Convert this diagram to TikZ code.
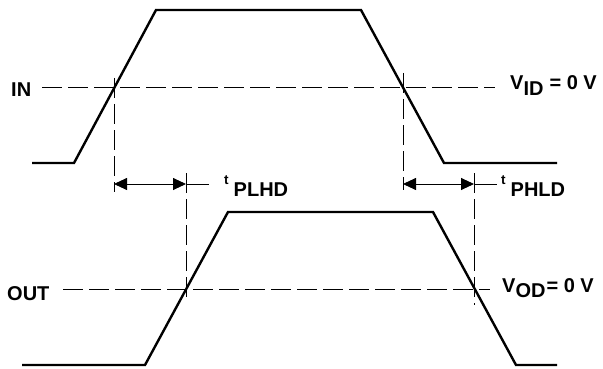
\documentclass[tikz,border=0pt]{standalone}
\usepackage{fontspec}
\setmainfont{Liberation Sans}
\usetikzlibrary{arrows.meta, positioning}

% delay label: small t, larger lowered index
\newcommand{\tdelay}[1]{{\fontsize{13.5}{14}\selectfont t}\hspace{5pt}\raisebox{-12pt}{#1}}

\begin{document}
\begin{tikzpicture}[x=1pt, y=-1pt,
        % Line styles
        wave/.style={line width=2.4pt, line join=miter},
        guide/.style={line width=0.9pt, dash pattern=on 20pt off 6pt},
        delay/.style={{Triangle[length=13pt,width=12pt]}-{Triangle[length=13pt,width=12pt]}, line width=0.9pt},
        tail/.style={line width=0.9pt},
        % Label styles
        lbl/.style={font=\fontsize{20}{22}\selectfont\bfseries, inner sep=0pt},
    ]
    \useasboundingbox (0,0) rectangle (603,369);

    % Waveforms
    \draw[wave] (32,163) -- (74,163) -- (156,10) -- (361,10) -- (444,163) -- (557,163);
    \draw[wave] (22,365) -- (145,365) -- (228,212) -- (433,212) -- (516,365) -- (557,365);

    % Labels
    \node[lbl, anchor=base west] (inlbl) at (11,97) {IN};
    \node[lbl, anchor=base west] (outlbl) at (7,300) {OUT};
    \node[lbl, anchor=base west] (vid) at (510,89) {V\raisebox{-6pt}{ID}\hspace{6pt}= 0 V};
    \node[lbl, anchor=base west] (vod) at (502,292) {V\raisebox{-5pt}{OD}\hspace{1pt}= 0 V};
    \node[lbl, anchor=base west] (tplhd) at (224,184) {\tdelay{PLHD}};
    \node[lbl, anchor=base west] (tphld) at (501,184) {\tdelay{PHLD}};

    % Threshold levels
    \coordinate (inA) at (42,87);   \coordinate (inB) at (495,87);
    \coordinate (outA) at (63,289); \coordinate (outB) at (490,289);
    \draw[guide] (inA) -- (inB);
    \draw[guide] (outA) -- (outB);

    % Crossing markers (vertical)
    \foreach \n/\x/\ya/\yb in {1/114/78/192, 2/186/173/302, 3/403/73/190, 4/474/173/305} {
        \coordinate (v\n a) at (\x,\ya);
        \coordinate (v\n b) at (\x,\yb);
        \draw[guide] (v\n a) -- (v\n b);
        \coordinate (d\n) at (\x,184);
    }

    % Delay arrows
    \coordinate (e2) at (209,184);
    \coordinate (e4) at (497,184);
    \draw[delay] (d1) -- (d2);
    \draw[delay] (d3) -- (d4);
    \draw[tail] (d2) -- (e2);
    \draw[tail] (d4) -- (e4);
\end{tikzpicture}
\end{document}
